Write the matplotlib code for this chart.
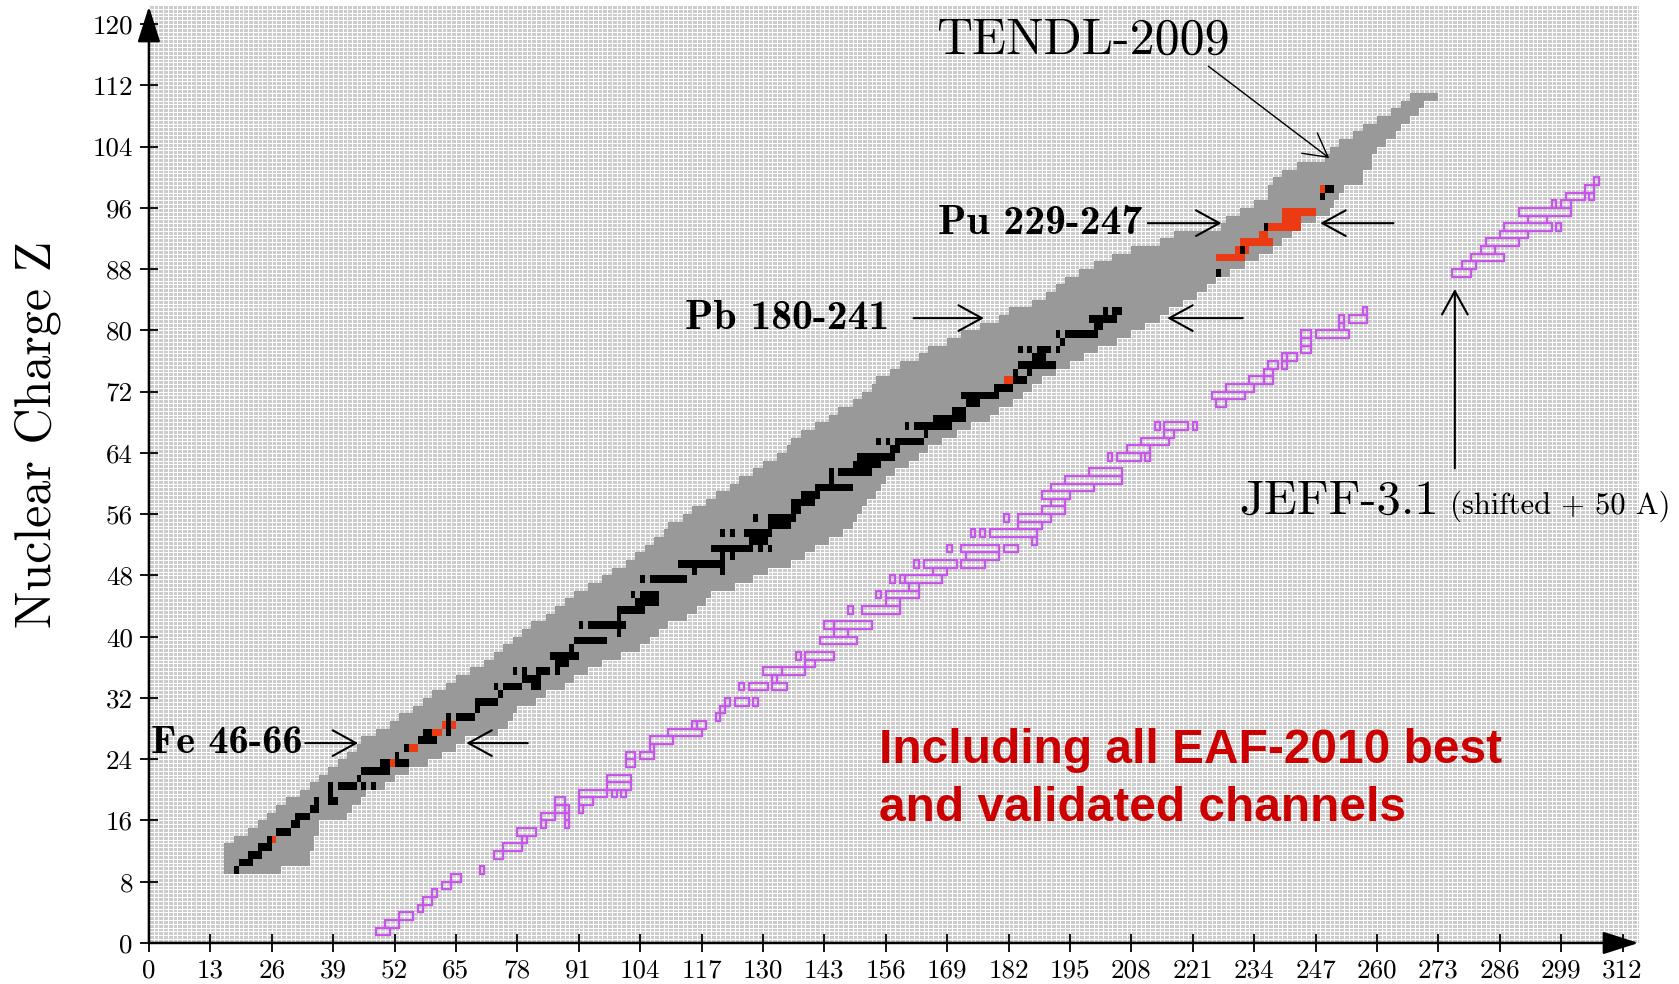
"""Nuclide chart: TENDL-2009 coverage with EAF-2010 and JEFF-3.1 overlays."""

import matplotlib.pyplot as plt
import numpy as np

# TENDL-2009 band, one row per Z: lower and upper A edge
BAND_Z = list(range(9, 111))
BAND_A_LOW = [16, 16, 16, 16, 18, 21, 23, 25, 27, 29, 32, 34, 36, 38, 40, 42, 44, 45, 48, 51,
              53, 56, 58, 60, 63, 65, 68, 71, 73, 75, 77, 79, 81, 84, 86, 88, 90, 93, 96, 98,
              101, 103, 105, 107, 109, 110, 113, 115, 118, 120, 123, 125, 128, 130, 133, 135, 136, 138, 141, 144,
              146, 149, 151, 153, 154, 157, 159, 163, 165, 169, 172, 176, 180, 182, 187, 190, 192, 194, 197, 200,
              204, 208, 214, 217, 227, 228, 231, 234, 237, 237, 238, 240, 243, 249, 250, 252, 255, 257, 260, 263,
              265, 267]
BAND_A_HIGH = [28, 34, 34, 35, 35, 36, 36, 42, 43, 45, 46, 50, 52, 55, 59, 62, 65, 67, 74, 76,
               77, 78, 82, 84, 88, 90, 93, 96, 100, 104, 106, 108, 110, 114, 116, 118, 119, 124, 128, 131,
               136, 139, 141, 144, 147, 149, 150, 151, 152, 154, 155, 156, 158, 161, 163, 165, 168, 171, 174, 178,
               180, 183, 185, 187, 189, 192, 195, 198, 201, 205, 208, 211, 214, 216, 219, 222, 224, 226, 229, 232,
               235, 238, 240, 242, 244, 247, 250, 251, 252, 253, 257, 257, 259, 259, 260, 262, 264, 265, 267, 269,
               270, 273]

# cells drawn black / red: (Z, first A, last A)
BLACK_RUNS = [
    (9, 18, 18), (10, 19, 21), (11, 21, 23), (12, 23, 25), (13, 25, 25), (14, 27, 29), (15, 30, 31),
    (16, 31, 33), (17, 34, 35), (18, 35, 35), (18, 38, 39), (19, 38, 38), (20, 38, 38), (20, 40, 43),
    (20, 45, 45), (20, 47, 47), (21, 44, 44), (22, 45, 50), (23, 49, 50), (23, 52, 54), (24, 52, 52),
    (25, 54, 54), (26, 57, 57), (26, 58, 60), (27, 58, 59), (27, 63, 63), (28, 63, 63), (29, 63, 63),
    (29, 65, 68), (30, 69, 69), (31, 69, 73), (32, 74, 74), (33, 73, 73), (33, 75, 78), (34, 79, 82),
    (33, 81, 82), (35, 77, 77), (35, 79, 79), (35, 82, 84), (35, 86, 86), (36, 86, 88), (37, 85, 90),
    (38, 89, 89), (39, 90, 95), (39, 96, 96), (41, 91, 91), (41, 93, 98), (40, 99, 99), (41, 99, 100),
    (42, 99, 99), (43, 99, 104), (45, 102, 102), (44, 103, 107), (45, 104, 107), (47, 104, 104),
    (47, 106, 106), (47, 107, 113), (48, 115, 115), (49, 112, 120), (48, 121, 121), (49, 121, 121),
    (50, 121, 121), (50, 123, 123), (51, 119, 127), (51, 129, 129), (51, 131, 131), (52, 127, 130),
    (53, 121, 121), (53, 123, 123), (53, 126, 131), (54, 131, 135), (55, 128, 128), (55, 131, 136),
    (56, 136, 137), (57, 136, 140), (58, 138, 141), (59, 141, 148), (60, 144, 144), (61, 144, 144),
    (61, 146, 152), (62, 149, 154), (63, 150, 157), (64, 157, 158), (65, 154, 154), (65, 156, 156),
    (65, 158, 163), (66, 164, 164), (67, 160, 160), (67, 162, 162), (67, 163, 169), (68, 166, 172),
    (69, 170, 172), (70, 173, 175), (71, 172, 179), (72, 179, 182), (73, 183, 185), (74, 183, 183),
    (74, 186, 186), (75, 184, 189), (76, 187, 189), (75, 190, 191), (77, 184, 184), (77, 186, 186),
    (77, 188, 190), (77, 192, 192), (78, 193, 193), (79, 192, 192), (79, 194, 200), (80, 200, 201),
    (81, 199, 204), (82, 202, 202), (82, 204, 205), (87, 226, 226), (90, 231, 231), (93, 236, 236),
    (97, 248, 248), (98, 249, 250),
]
RED_RUNS = [
    (13, 26, 26), (23, 51, 51), (25, 55, 56), (27, 60, 61), (28, 62, 62), (28, 64, 64), (73, 181, 182),
    (89, 226, 231), (90, 230, 230), (90, 232, 232), (91, 231, 237), (92, 235, 236), (93, 237, 243),
    (94, 240, 243), (95, 240, 246), (98, 248, 248),
]

# JEFF-3.1 (A shifted by +50): (Z, left A edge, right A edge)
JEFF_BOXES = [
    (1, 48, 51), (2, 50, 53), (3, 53, 56), (4, 57, 58), (5, 58, 60), (6, 60, 61), (7, 62, 64), (8, 64, 66),
    (9, 70, 71), (11, 73, 75), (12, 75, 79), (13, 79, 80), (14, 78, 82), (15, 83, 84), (16, 83, 86),
    (17, 86, 88), (18, 86, 88), (15, 88, 89), (16, 88, 89), (17, 88, 89), (17, 91, 92), (18, 91, 94),
    (19, 91, 97), (19, 98, 99), (19, 100, 101), (20, 97, 102), (21, 97, 102), (23, 101, 103),
    (24, 101, 103), (24, 104, 107), (25, 106, 107), (26, 106, 111), (27, 110, 117), (28, 115, 116),
    (28, 116, 118), (29, 120, 121), (30, 121, 122), (31, 122, 123), (31, 124, 127), (31, 128, 129),
    (33, 125, 126), (33, 127, 131), (33, 132, 135), (34, 132, 133), (35, 130, 134), (35, 134, 139),
    (36, 139, 141), (37, 137, 138), (37, 139, 145), (39, 142, 150), (40, 145, 148), (41, 143, 145),
    (41, 145, 153), (43, 148, 149), (43, 151, 159), (44, 156, 159), (45, 154, 155), (45, 156, 163),
    (46, 161, 163), (47, 157, 158), (47, 159, 160), (47, 160, 168), (48, 166, 169), (49, 162, 163),
    (49, 164, 171), (49, 172, 177), (50, 173, 180), (51, 169, 170), (51, 172, 180), (51, 181, 184),
    (52, 187, 188), (53, 174, 175), (53, 176, 177), (53, 178, 188), (54, 184, 189), (55, 181, 182),
    (55, 184, 191), (56, 189, 194), (57, 191, 194), (58, 189, 195), (59, 191, 200), (60, 194, 206),
    (61, 199, 206), (63, 203, 204), (63, 205, 210), (63, 211, 212), (64, 207, 212), (65, 210, 216),
    (66, 215, 217), (67, 213, 214), (67, 215, 220), (67, 221, 222), (70, 226, 228), (71, 225, 232),
    (72, 228, 234), (73, 233, 236), (73, 236, 238), (74, 236, 238), (75, 237, 239), (75, 240, 241),
    (76, 240, 241), (76, 241, 243), (77, 244, 246), (78, 244, 246), (79, 244, 246), (79, 247, 254),
    (80, 252, 253), (81, 252, 253), (81, 254, 258), (82, 257, 258), (87, 276, 280), (88, 278, 281),
    (89, 280, 287), (90, 282, 285), (91, 283, 290), (92, 286, 292), (93, 287, 297), (93, 298, 299),
    (94, 292, 296), (95, 290, 301), (96, 297, 298), (96, 299, 301), (97, 300, 304), (97, 305, 306),
    (98, 304, 306), (99, 306, 307),
]

X_TICKS = list(range(0, 313, 13))
Y_TICKS = list(range(0, 121, 8))

GRAY = "#999999"
RED = "#ec3a12"
MAGENTA = "#c955ec"

plt.rcParams["font.family"] = "cmr10"
plt.rcParams["axes.unicode_minus"] = False
plt.rcParams["axes.formatter.use_mathtext"] = True

fig = plt.figure(figsize=(16.79, 9.84), dpi=100)
ax = fig.add_axes([0.0887, 0.0417, 0.8875, 0.9533])
ax.set_xlim(0, 315.5)
ax.set_ylim(0, 122.5)

# background mesh
ax.set_facecolor("#cbcbcb")
ax.vlines(np.arange(0, 316), 0, 122.5, color="white", lw=0.75, zorder=0)
ax.hlines(np.arange(0, 122.6, 0.5), 0, 315.5, color="white", lw=0.75, zorder=0)

# TENDL band
low = np.array(BAND_A_LOW)
high = np.array(BAND_A_HIGH)
ax.barh(np.array(BAND_Z) + 0.5, high - low, left=low, height=1.0, color=GRAY, lw=0, zorder=2)

for runs, colour in [(BLACK_RUNS, "black"), (RED_RUNS, RED)]:
    z = np.array([r[0] for r in runs])
    a0 = np.array([r[1] for r in runs])
    a1 = np.array([r[2] for r in runs])
    ax.barh(z + 0.5, a1 - a0 + 1, left=a0, height=1.0, color=colour, lw=0, zorder=3)

# JEFF boxes
jz = np.array([b[0] for b in JEFF_BOXES])
ja0 = np.array([b[1] for b in JEFF_BOXES])
ja1 = np.array([b[2] for b in JEFF_BOXES])
ax.bar(ja0, 1.0, width=ja1 - ja0, bottom=jz, align="edge",
       fill=False, edgecolor=MAGENTA, lw=1.6, zorder=4)

# axes with arrow heads
for side in ["top", "right", "left", "bottom"]:
    ax.spines[side].set_visible(False)
axis_arrow = dict(arrowstyle="-|>,head_length=1.1,head_width=0.35", lw=1.8,
                  color="black", shrinkA=0, shrinkB=0, mutation_scale=20)
ax.annotate("", xy=(315.4, 0), xytext=(0, 0), arrowprops=axis_arrow, annotation_clip=False)
ax.annotate("", xy=(0, 122.3), xytext=(0, 0), arrowprops=axis_arrow, annotation_clip=False)

ax.set_xticks(X_TICKS)
ax.set_xticklabels([str(t) for t in X_TICKS])
ax.set_yticks(Y_TICKS)
ax.set_yticklabels([str(t) for t in Y_TICKS])
ax.tick_params(direction="inout", length=13, width=1.3, labelsize=19.5, pad=5)

fig.text(0.0223, 0.559, "Nuclear Charge Z", rotation=90, fontsize=36, ha="center", va="center")

# labels and pointers
pointer = dict(arrowstyle="->,head_length=0.4,head_width=0.22", lw=1.5, color="black",
               shrinkA=0, shrinkB=0, mutation_scale=42)
ax.text(197.8, 117.8, "TENDL-2009", fontsize=36, ha="center", va="center")
ax.annotate("", xy=(249.9, 102.5), xytext=(224.3, 114.5),
            arrowprops=dict(pointer, lw=1.0))

ax.text(210.3, 94.0, "Pu 229-247", fontsize=30, family="cmb10", ha="right", va="center")
ax.annotate("", xy=(227.1, 94.0), xytext=(211.5, 94.0), arrowprops=pointer)
ax.annotate("", xy=(248.0, 94.0), xytext=(263.5, 94.0), arrowprops=pointer)

ax.text(156.7, 81.6, "Pb 180-241", fontsize=30, family="cmb10", ha="right", va="center")
ax.annotate("", xy=(176.8, 81.6), xytext=(161.9, 81.6), arrowprops=pointer)
ax.annotate("", xy=(215.6, 81.6), xytext=(231.6, 81.6), arrowprops=pointer)

ax.text(32.6, 26.1, "Fe 46-66", fontsize=29, family="cmb10", ha="right", va="center", zorder=6)
ax.annotate("", xy=(44.3, 26.1), xytext=(33.1, 26.1), arrowprops=pointer)
ax.annotate("", xy=(67.2, 26.1), xytext=(80.2, 26.1), arrowprops=pointer)

ax.text(230.9, 56.0, "JEFF-3.1", fontsize=35, va="baseline")
ax.text(275.4, 56.0, "(shifted + 50 A)", fontsize=22, va="baseline", clip_on=False)
ax.annotate("", xy=(276.5, 85.4), xytext=(276.5, 62.0), arrowprops=pointer)

red_font = dict(color="#cc0000", fontsize=34.5, family="Liberation Sans", weight="bold", va="center")
ax.text(154.6, 25.1, "Including all EAF-2010 best", **red_font)
ax.text(154.6, 17.6, "and validated channels", **red_font)

fig.savefig("out.png", dpi=100)
